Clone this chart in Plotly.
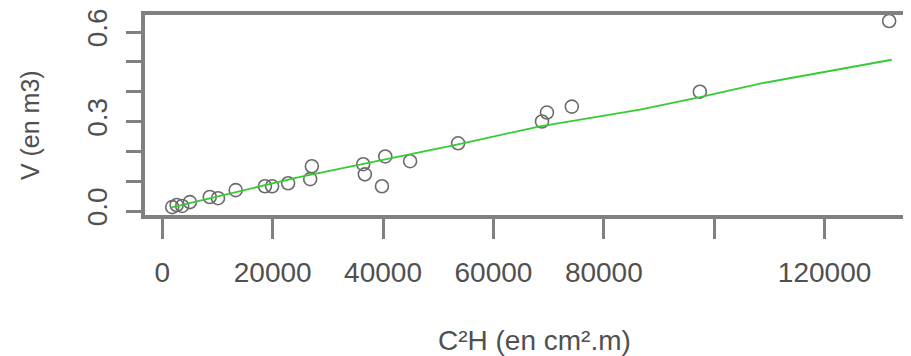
import plotly.graph_objects as go

c2h = [1800, 2600, 3600, 5000, 8600, 10100, 13300, 18600, 19900, 22800,
       26800, 27100, 36400, 36700, 39800, 40400, 44900, 53600, 68800, 69700,
       74200, 97400, 131700]
vol = [0.013, 0.020, 0.017, 0.030, 0.047, 0.043, 0.070, 0.083, 0.083, 0.093,
       0.107, 0.150, 0.157, 0.123, 0.083, 0.183, 0.167, 0.227, 0.300, 0.330,
       0.350, 0.400, 0.637]

# Fitted curve
fit_x = [1700, 24350, 53580, 68440, 86560, 97430, 108300, 132170]
fit_y = [0.012, 0.112, 0.223, 0.284, 0.340, 0.382, 0.427, 0.507]

x_ticks = [0, 20000, 40000, 60000, 80000, 100000, 120000]
x_labels = ["0", "20000", "40000", "60000", "80000", "", "120000"]
y_ticks = [0.0, 0.1, 0.2, 0.3, 0.4, 0.5, 0.6]
y_labels = ["0.0", "", "", "0.3", "", "", "0.6"]

x_title = "C²H (en cm².m)"
y_title = "V (en m3)"

FONT = "Liberation Sans, Arial, sans-serif"
TXT = "#505050"
AX = "#808080"

fig = go.Figure()
fig.add_trace(go.Scatter(x=c2h, y=vol, mode="markers",
                         marker=dict(symbol="circle-open", size=13,
                                     color="#6a6a6a", line=dict(width=1.6)),
                         showlegend=False))
fig.add_trace(go.Scatter(x=fit_x, y=fit_y, mode="lines",
                         line=dict(color="#33cc33", width=1.8),
                         showlegend=False))

# the page body adds an 8px offset; size the figure so that the plot box
# lands at the reference position inside the 911x356 window
fig.update_layout(
    width=903, height=348,
    margin=dict(l=137, r=0, t=7, b=141),
    paper_bgcolor="white", plot_bgcolor="white",
    font=dict(family=FONT, size=28, color=TXT),
    xaxis=dict(range=[-3135, 135660], showgrid=False, zeroline=False,
               automargin=False,
               showline=True, linecolor=AX, linewidth=4, mirror=True,
               tickmode="array", tickvals=x_ticks, ticktext=x_labels,
               ticks="outside", ticklen=20, tickwidth=3, tickcolor=AX,
               ticklabelstandoff=9,
               tickfont=dict(family=FONT, size=28, color=TXT)),
    yaxis=dict(range=[-0.0133, 0.657], showgrid=False, zeroline=False,
               automargin=False,
               showline=True, linecolor=AX, linewidth=4, mirror=False,
               tickmode="array", tickvals=y_ticks, ticktext=y_labels,
               ticks="outside", ticklen=15, tickwidth=3, tickcolor=AX,
               tickangle=-90, ticklabelstandoff=8,
               tickfont=dict(family=FONT, size=28, color=TXT)),
    annotations=[
        dict(text=x_title, xref="paper", yref="paper", x=0.509, y=-0.625,
             xanchor="center", yanchor="middle", showarrow=False,
             font=dict(family=FONT, size=28, color=TXT)),
        dict(text=y_title, xref="paper", yref="paper", x=-0.150, y=0.45,
             xanchor="center", yanchor="middle", showarrow=False,
             textangle=-90, font=dict(family=FONT, size=25, color=TXT)),
    ],
)

fig.write_html("out.html")
